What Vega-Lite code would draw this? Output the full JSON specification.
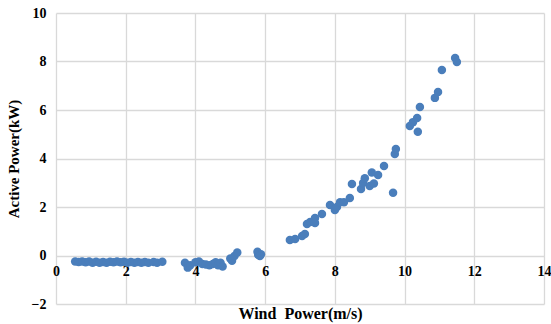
{
  "$schema": "https://vega.github.io/schema/vega-lite/v6.json",
  "width": 488,
  "height": 291,
  "autosize": {"type": "none"},
  "padding": {"left": 56, "top": 13, "right": 7, "bottom": 20},
  "config": {
    "view": {"stroke": null},
    "axis": {"labelFont": "Liberation Serif", "titleFont": "Liberation Serif", "labelFontWeight": "bold", "titleFontWeight": "bold", "labelColor": "#000", "titleColor": "#000", "gridColor": "#d9d9d9", "gridWidth": 1.3, "domain": false, "ticks": false, "labelFontSize": 14, "titleFontSize": 15}
  },
  "data": {"values": [
    {"ws": 0.55, "p": -0.25}, {"ws": 0.65, "p": -0.27}, {"ws": 0.75, "p": -0.25}, {"ws": 0.85, "p": -0.28}, {"ws": 0.95, "p": -0.25},
    {"ws": 1.05, "p": -0.3}, {"ws": 1.15, "p": -0.26}, {"ws": 1.25, "p": -0.3}, {"ws": 1.35, "p": -0.27}, {"ws": 1.45, "p": -0.3},
    {"ws": 1.55, "p": -0.26}, {"ws": 1.65, "p": -0.28}, {"ws": 1.75, "p": -0.25}, {"ws": 1.85, "p": -0.28}, {"ws": 1.95, "p": -0.26},
    {"ws": 2.05, "p": -0.3}, {"ws": 2.15, "p": -0.27}, {"ws": 2.25, "p": -0.3}, {"ws": 2.35, "p": -0.27}, {"ws": 2.45, "p": -0.3},
    {"ws": 2.55, "p": -0.27}, {"ws": 2.65, "p": -0.3}, {"ws": 2.8, "p": -0.27}, {"ws": 2.9, "p": -0.3}, {"ws": 3.05, "p": -0.26},
    {"ws": 3.7, "p": -0.3}, {"ws": 3.78, "p": -0.5}, {"ws": 3.85, "p": -0.4}, {"ws": 4.0, "p": -0.28}, {"ws": 4.1, "p": -0.25},
    {"ws": 4.2, "p": -0.35}, {"ws": 4.3, "p": -0.37}, {"ws": 4.4, "p": -0.4}, {"ws": 4.5, "p": -0.35}, {"ws": 4.58, "p": -0.28},
    {"ws": 4.65, "p": -0.4}, {"ws": 4.72, "p": -0.3}, {"ws": 4.78, "p": -0.45},
    {"ws": 5.0, "p": -0.12}, {"ws": 5.05, "p": -0.22}, {"ws": 5.12, "p": -0.02}, {"ws": 5.2, "p": 0.12},
    {"ws": 5.78, "p": 0.15}, {"ws": 5.8, "p": 0.03}, {"ws": 5.88, "p": 0.05}, {"ws": 5.85, "p": -0.02},
    {"ws": 6.71, "p": 0.64}, {"ws": 6.86, "p": 0.68}, {"ws": 7.06, "p": 0.8}, {"ws": 7.14, "p": 0.89}, {"ws": 7.2, "p": 1.3},
    {"ws": 7.29, "p": 1.38}, {"ws": 7.43, "p": 1.55}, {"ws": 7.43, "p": 1.34}, {"ws": 7.63, "p": 1.71}, {"ws": 7.86, "p": 2.08},
    {"ws": 8.0, "p": 1.88}, {"ws": 8.06, "p": 2.0}, {"ws": 8.15, "p": 2.2}, {"ws": 8.26, "p": 2.2}, {"ws": 8.43, "p": 2.37},
    {"ws": 8.49, "p": 2.95}, {"ws": 8.75, "p": 2.74}, {"ws": 8.81, "p": 2.99}, {"ws": 8.86, "p": 3.19}, {"ws": 9.0, "p": 2.87},
    {"ws": 9.12, "p": 2.97}, {"ws": 9.06, "p": 3.42}, {"ws": 9.24, "p": 3.32}, {"ws": 9.41, "p": 3.69}, {"ws": 9.67, "p": 2.59},
    {"ws": 9.72, "p": 4.19}, {"ws": 9.75, "p": 4.39}, {"ws": 10.15, "p": 5.34}, {"ws": 10.24, "p": 5.5}, {"ws": 10.36, "p": 5.67},
    {"ws": 10.38, "p": 5.1}, {"ws": 10.44, "p": 6.12}, {"ws": 10.87, "p": 6.5}, {"ws": 10.96, "p": 6.74}, {"ws": 11.07, "p": 7.65},
    {"ws": 11.45, "p": 8.14}, {"ws": 11.5, "p": 7.98}
  ]},
  "mark": {"type": "point", "shape": "circle", "filled": true, "size": 72, "color": "#4a7ebb", "opacity": 1},
  "encoding": {
    "x": {"field": "ws", "type": "quantitative", "scale": {"domain": [0, 14], "nice": false},
      "axis": {"values": [0, 2, 4, 6, 8, 10, 12, 14], "labelFont": "Liberation Serif", "title": "Wind\u00a0\u00a0Power(m/s)", "titleFontSize": 16, "offset": -48.5, "labelPadding": 9, "titlePadding": 27, "labelFlush": false}},
    "y": {"field": "p", "type": "quantitative", "scale": {"domain": [-2, 10], "nice": false},
      "axis": {"values": [-2, 0, 2, 4, 6, 8, 10], "labelFont": "Liberation Serif", "title": "Active Power(kW)", "labelPadding": 10, "titlePadding": 10}}
  }
}
